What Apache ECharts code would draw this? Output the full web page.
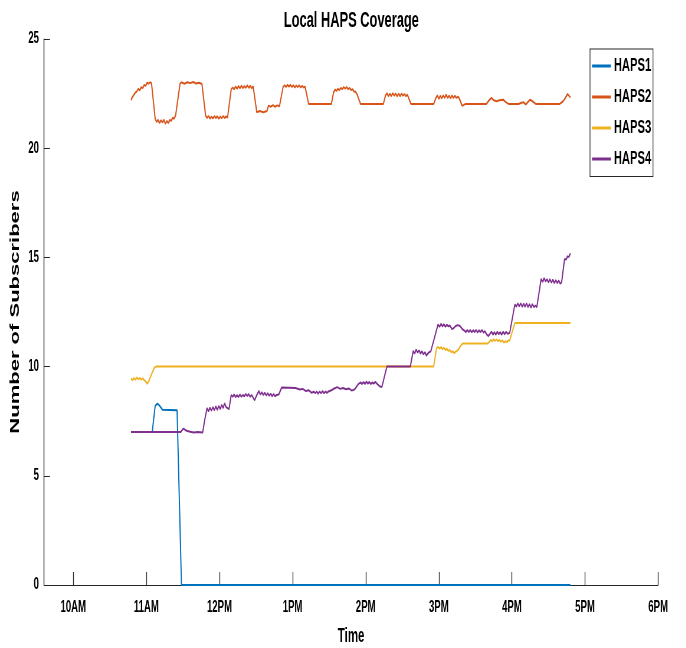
<!DOCTYPE html>
<html>
<head>
<meta charset="utf-8">
<title>Local HAPS Coverage</title>
<script src="https://cdn.jsdelivr.net/npm/echarts@6/dist/echarts.min.js"></script>
<style>
  html, body { margin: 0; padding: 0; background: #fff; overflow: hidden; }
  /* the original figure is squeezed horizontally, so draw wide and squeeze */
  #chart { width: 1163px; height: 648px; transform: scaleX(0.59); transform-origin: 0 0; }
</style>
</head>
<body>
<div id="chart"></div>
<script>
// time of day in hours (10.5 = 10:30), values = number of subscribers
const hourTicks = [10, 11, 12, 13, 14, 15, 16, 17, 18]
const seriesNames = ['HAPS1', 'HAPS2', 'HAPS3', 'HAPS4']
const colors = ['#0072BD', '#D95319', '#EDB120', '#7E2F8E']

const haps1Time = [10.79, 11.08, 11.12, 11.15, 11.17, 11.2, 11.22, 11.42, 11.48, 16.8]
const haps1Value = [7, 7, 8.2, 8.3, 8.25, 8.12, 8.02, 8.0, 0, 0]

const haps2Time = [
  10.79, 10.81, 10.83, 10.85, 10.87, 10.89, 10.91, 10.93, 10.95, 10.97, 10.99, 11.01, 11.03, 11.05, 11.07,
  11.12, 11.14, 11.16, 11.18, 11.2, 11.22, 11.24, 11.26, 11.28, 11.3, 11.32, 11.34, 11.36, 11.38, 11.4,
  11.46, 11.48, 11.52, 11.56, 11.6, 11.64, 11.68, 11.72, 11.76,
  11.81, 11.83, 11.85, 11.87, 11.89, 11.91, 11.93, 11.95, 11.97, 11.99, 12.01, 12.03, 12.05, 12.07, 12.09, 12.11,
  12.16, 12.18, 12.2, 12.22, 12.24, 12.26, 12.28, 12.3, 12.32, 12.34, 12.36, 12.38, 12.4, 12.42, 12.44, 12.46,
  12.51, 12.55, 12.6, 12.65, 12.67, 12.7, 12.73, 12.76, 12.79, 12.82,
  12.87, 12.89, 12.91, 12.93, 12.95, 12.97, 12.99, 13.01, 13.03, 13.05, 13.07, 13.09, 13.11, 13.13, 13.15, 13.17,
  13.22, 13.53,
  13.56, 13.58, 13.6, 13.62, 13.64, 13.66, 13.68, 13.7, 13.72, 13.74, 13.76, 13.78, 13.8, 13.82, 13.84, 13.86, 13.88,
  13.93, 14.24,
  14.27, 14.29, 14.31, 14.33, 14.35, 14.37, 14.39, 14.41, 14.43, 14.45, 14.47, 14.49, 14.51, 14.53, 14.55, 14.57,
  14.62, 14.93,
  14.96, 14.98, 15.0, 15.02, 15.04, 15.06, 15.08, 15.1, 15.12, 15.14, 15.16, 15.18, 15.2, 15.22, 15.24, 15.26, 15.28,
  15.32, 15.36, 15.65, 15.69, 15.72, 15.75, 15.79, 15.83, 15.88, 15.92, 15.96,
  16.09, 16.13, 16.16, 16.19, 16.22, 16.25, 16.28, 16.33, 16.65, 16.7, 16.73, 16.76, 16.78, 16.8
]
const haps2Value = [
  22.2, 22.35, 22.45, 22.55, 22.6, 22.72, 22.65, 22.8, 22.75, 22.9, 22.85, 23.0, 22.95, 23.02, 22.98,
  21.35, 21.2, 21.3, 21.15, 21.28, 21.18, 21.3, 21.12, 21.25, 21.15, 21.3, 21.25, 21.4, 21.35, 21.5,
  22.95, 23.02, 22.95, 23.02, 22.98, 23.03, 22.96, 23.0, 22.94,
  21.5, 21.38, 21.48, 21.35, 21.45, 21.36, 21.47, 21.38, 21.46, 21.35, 21.45, 21.37, 21.48, 21.38, 21.46, 21.4,
  22.7, 22.78, 22.7, 22.82, 22.72, 22.85, 22.74, 22.86, 22.75, 22.85, 22.76, 22.88, 22.76, 22.86, 22.74, 22.84,
  21.65, 21.7, 21.65, 21.7, 21.95, 21.9, 21.97, 21.9, 21.96, 21.92,
  22.8, 22.88, 22.8, 22.9, 22.82, 22.9, 22.8, 22.88, 22.78, 22.87, 22.8, 22.88, 22.78, 22.85, 22.78, 22.82,
  22.02, 22.02,
  22.55, 22.68, 22.62, 22.72, 22.66, 22.76, 22.7, 22.8, 22.72, 22.8, 22.7, 22.76, 22.66, 22.7, 22.6, 22.58, 22.48,
  22.02, 22.02,
  22.4, 22.52, 22.38, 22.5, 22.38, 22.52, 22.4, 22.5, 22.37, 22.5, 22.38, 22.5, 22.4, 22.48, 22.38, 22.45,
  22.02, 22.02,
  22.3, 22.42, 22.26, 22.4, 22.28, 22.42, 22.3, 22.45, 22.3, 22.4, 22.28, 22.42, 22.3, 22.4, 22.3, 22.36, 22.28,
  21.94, 22.02, 22.02, 22.2, 22.3, 22.2, 22.15, 22.2, 22.22, 22.1, 22.02,
  22.02, 22.08, 22.1, 22.0, 22.12, 22.22, 22.15, 22.02, 22.02, 22.15, 22.3, 22.48, 22.4, 22.32
]

const haps3Time = [
  10.79, 10.81, 10.83, 10.85, 10.87, 10.89, 10.91, 10.93, 10.95, 10.97, 10.99, 11.01, 11.03, 11.07, 11.11, 11.13,
  14.93, 14.97, 14.99, 15.01, 15.03, 15.05, 15.07, 15.09, 15.11, 15.13, 15.15, 15.17, 15.19, 15.21, 15.23, 15.25,
  15.27, 15.29, 15.31, 15.33, 15.67, 15.71, 15.73, 15.75, 15.77, 15.79, 15.81, 15.83, 15.85, 15.87, 15.89, 15.91,
  15.93, 15.95, 15.97, 16.04, 16.8
]
const haps3Value = [
  9.45, 9.38, 9.48, 9.4, 9.5, 9.42, 9.48, 9.4, 9.46, 9.38, 9.32, 9.22, 9.3, 9.65, 9.95, 10.0,
  10.0, 10.85, 10.9, 10.82, 10.9, 10.8, 10.86, 10.76, 10.82, 10.72, 10.76, 10.66, 10.7, 10.62, 10.68, 10.72,
  10.8, 10.9, 11.0, 11.06, 11.06, 11.22, 11.16, 11.25, 11.18, 11.24, 11.16, 11.22, 11.14, 11.2, 11.1, 11.16,
  11.12, 11.2, 11.2, 12.0, 12.0
]

const haps4Time = [
  10.79, 11.47, 11.49, 11.51, 11.53, 11.56, 11.6, 11.65, 11.7, 11.77,
  11.8, 11.83, 11.85, 11.87, 11.89, 11.91, 11.93, 11.95, 11.97, 11.99, 12.01, 12.03, 12.05, 12.07, 12.09, 12.11, 12.13,
  12.16, 12.18, 12.2, 12.22, 12.24, 12.26, 12.28, 12.3, 12.32, 12.34, 12.36, 12.38, 12.4, 12.42, 12.44, 12.46, 12.48,
  12.51, 12.54, 12.56, 12.58, 12.6, 12.62, 12.64, 12.66, 12.68, 12.7, 12.72, 12.74, 12.76, 12.78, 12.81,
  12.85, 13.04, 13.1, 13.14, 13.18, 13.22, 13.26, 13.29, 13.31, 13.33, 13.35, 13.37, 13.39, 13.41, 13.43, 13.45, 13.47, 13.49,
  13.53, 13.57, 13.61, 13.65, 13.69, 13.73, 13.77, 13.81, 13.85,
  13.9, 13.93, 13.95, 13.97, 13.99, 14.01, 14.03, 14.05, 14.07, 14.09, 14.11, 14.13, 14.16, 14.19, 14.22,
  14.29, 14.61, 14.65, 14.67, 14.69, 14.71, 14.73, 14.75, 14.77, 14.79, 14.81, 14.83, 14.85, 14.87, 14.89,
  14.99, 15.01, 15.03, 15.05, 15.07, 15.09, 15.11, 15.13, 15.15, 15.18, 15.2, 15.23, 15.26, 15.29, 15.32, 15.35,
  15.37, 15.39, 15.41, 15.43, 15.45, 15.47, 15.49, 15.51, 15.53, 15.55, 15.57, 15.59, 15.61, 15.63, 15.66, 15.68,
  15.7, 15.72, 15.74, 15.76, 15.78, 15.8, 15.82, 15.84, 15.86, 15.88, 15.9, 15.92, 15.94, 15.97,
  16.04, 16.06, 16.08, 16.1, 16.12, 16.14, 16.16, 16.18, 16.2, 16.22, 16.24, 16.26, 16.28, 16.3, 16.32, 16.34,
  16.4, 16.42, 16.44, 16.46, 16.48, 16.5, 16.52, 16.54, 16.56, 16.58, 16.6, 16.62, 16.64, 16.66, 16.68,
  16.72, 16.74, 16.76, 16.78, 16.8
]
const haps4Value = [
  7.0, 7.0, 7.1, 7.16, 7.1, 7.05, 7.02, 6.98, 7.0, 6.98,
  7.6, 8.1, 7.95, 8.12, 7.98, 8.15, 8.0, 8.18, 8.02, 8.2, 8.05, 8.25, 8.1, 8.32, 8.15, 8.1, 8.05,
  8.7, 8.62, 8.72, 8.6, 8.7, 8.6, 8.72, 8.62, 8.7, 8.64, 8.75, 8.65, 8.74, 8.62, 8.7, 8.58, 8.46,
  8.7, 8.88, 8.72, 8.82, 8.7, 8.8, 8.68, 8.78, 8.66, 8.76, 8.64, 8.74, 8.64, 8.7, 8.72,
  9.04, 9.02, 8.95, 8.98, 8.88, 8.92, 8.8, 8.85, 8.78, 8.86, 8.76, 8.86, 8.78, 8.88, 8.78, 8.86, 8.8, 8.86,
  8.92, 9.0, 9.06, 8.98, 9.02, 8.96, 9.0, 8.9, 8.96,
  9.2, 9.28, 9.2, 9.3, 9.2, 9.32, 9.22, 9.3, 9.2, 9.28, 9.22, 9.3, 9.2, 9.1, 9.06,
  10.0, 10.0, 10.72, 10.6, 10.78, 10.64, 10.74, 10.6, 10.7, 10.56, 10.66, 10.5, 10.6, 10.66, 10.7,
  11.93, 11.82, 11.96, 11.84, 11.94, 11.82, 11.92, 11.84, 11.88, 11.72, 11.75, 11.86, 11.9, 11.86, 11.72, 11.65,
  11.58, 11.68, 11.58, 11.68, 11.57, 11.67, 11.58, 11.68, 11.56, 11.66, 11.58, 11.68, 11.56, 11.62, 11.45, 11.4,
  11.5, 11.6, 11.46, 11.58, 11.46, 11.6, 11.48, 11.58, 11.46, 11.6, 11.48, 11.6, 11.5, 11.55,
  12.84, 12.74, 12.9, 12.76, 12.9, 12.74, 12.88, 12.74, 12.9, 12.72, 12.86, 12.7, 12.86, 12.72, 12.8, 12.72,
  14.02, 13.88, 14.05, 13.9, 14.0, 13.86, 14.0, 13.84, 13.98, 13.82, 13.96, 13.82, 13.94, 13.8, 13.86,
  14.93, 14.9, 15.05, 15.02, 15.19
]

const seriesTimes = [haps1Time, haps2Time, haps3Time, haps4Time]
const seriesValues = [haps1Value, haps2Value, haps3Value, haps4Value]

const FONT = "'Liberation Sans', Arial, sans-serif"
const AXIS_COLOR = '#262626'

const hourLabel = (h) => {
  const hh = h % 12 === 0 ? 12 : h % 12
  return hh + (h < 12 ? 'AM' : 'PM')
}

const chart = echarts.init(document.getElementById('chart'), null, { renderer: 'canvas' })

// all x sizes below are before the 0.59 squeeze
const option = {
  backgroundColor: '#fff',
  animation: false,
  textStyle: { fontFamily: FONT },
  color: colors,
  title: {
    text: 'Local HAPS Coverage',
    left: 481,
    top: 9.6,
    padding: 0,
    textStyle: { fontFamily: FONT, fontSize: 21.8, fontWeight: 'bold', color: '#000' }
  },
  grid: {
    left: 74.6,
    right: 47.5,
    top: 39,
    bottom: 63,
    outerBoundsMode: 'none'
  },
  legend: {
    orient: 'vertical',
    left: 1000,
    top: 49,
    padding: [7.5, 3, 8, 3.4],
    itemGap: 12,
    itemWidth: 32,
    itemHeight: 3,
    icon: 'rect',
    backgroundColor: '#fff',
    borderColor: AXIS_COLOR,
    borderWidth: 1.2,
    data: seriesNames,
    textStyle: { fontFamily: FONT, fontSize: 19, fontWeight: 'bold', color: '#000' }
  },
  xAxis: {
    type: 'value',
    min: 9.6,
    max: 18,
    name: 'Time',
    nameLocation: 'middle',
    nameGap: 41.5,
    nameTextStyle: { fontFamily: FONT, fontSize: 19.5, fontWeight: 'bold', color: '#000' },
    axisLine: { lineStyle: { color: AXIS_COLOR, width: 1 } },
    axisTick: { inside: true, length: 13, customValues: hourTicks, lineStyle: { color: AXIS_COLOR, width: 1.3 } },
    axisLabel: {
      customValues: hourTicks,
      margin: 14.3,
      color: '#000',
      fontFamily: FONT,
      fontSize: 16.3,
      fontWeight: 'bold',
      formatter: (v) => hourLabel(Math.round(v))
    },
    splitLine: { show: false }
  },
  yAxis: {
    type: 'value',
    min: 0,
    max: 25,
    interval: 5,
    name: 'Number of Subscribers',
    nameLocation: 'middle',
    nameGap: 29,
    nameTextStyle: { fontFamily: FONT, fontSize: 22, fontWeight: 'bold', color: '#000' },
    axisLine: { show: true, lineStyle: { color: AXIS_COLOR, width: 1.4 } },
    axisTick: { show: true, inside: true, length: 10, lineStyle: { color: AXIS_COLOR } },
    axisLabel: { margin: 8.5, color: '#000', fontFamily: FONT, fontSize: 16.3, fontWeight: 'bold' },
    splitLine: { show: false }
  },
  series: seriesNames.map((name, k) => ({
    name: name,
    type: 'line',
    showSymbol: false,
    symbol: 'none',
    clip: false,
    lineStyle: { width: 2, color: colors[k] },
    itemStyle: { color: colors[k] },
    data: seriesTimes[k].map((t, i) => [t, seriesValues[k][i]])
  }))
}

chart.setOption(option)
</script>
</body>
</html>
